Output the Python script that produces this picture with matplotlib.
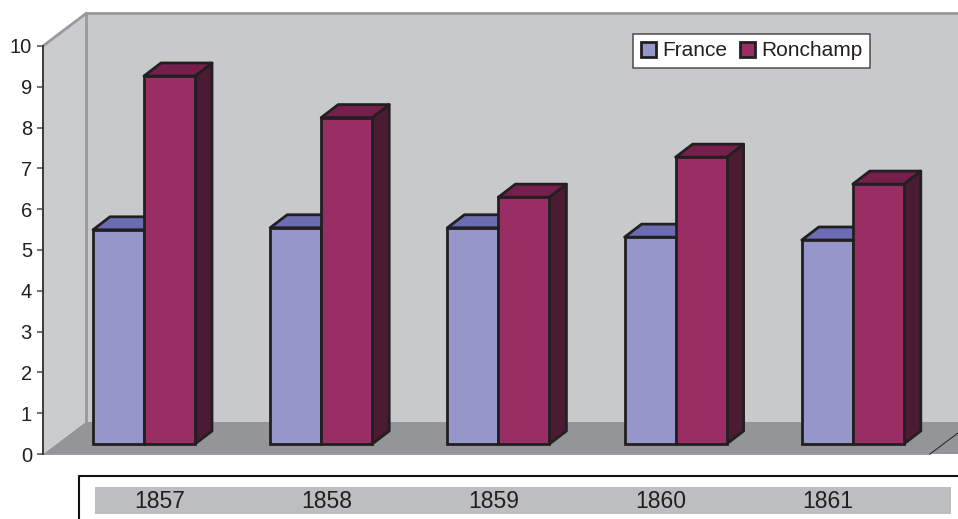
import matplotlib
matplotlib.use("Agg")
import matplotlib.pyplot as plt
from matplotlib.lines import Line2D
from matplotlib.patches import Patch, Polygon

plt.rcParams['font.family'] = ['Liberation Sans', 'DejaVu Sans']

years = ["1857", "1858", "1859", "1860", "1861"]
france = [5.25, 5.3, 5.3, 5.07, 5.0]
ronchamp = [9.02, 8.0, 6.05, 7.03, 6.37]
yticks = list(range(11))

W, H = 958, 519
INK = "#231f20"

fig = plt.figure(figsize=(W / 100, H / 100), dpi=100, facecolor="white")
ax = fig.add_axes([43 / W, (H - 454) / H, (W - 43) / W, 408 / H])

# one group = 177.2 px, one y unit = 40.8 px
px = 1 / 177.2
py = 1 / 40.8
ax.set_xlim((43 - 144) * px, (958 - 144) * px)
ax.set_ylim(0, 10)
ax.patch.set_visible(False)


def poly(pts, fc, ec="none", lw=0, z=1, clip=False):
    p = Polygon(pts, closed=True, facecolor=fc, edgecolor=ec, linewidth=lw,
                zorder=z, clip_on=clip, joinstyle="round")
    ax.add_patch(p)


# walls and floor
x0, x1 = ax.get_xlim()
wx = 43 * px
wy = 32.5 * py
fx = x0 + (930 - 43) * px
poly([(x0, 0), (x0 + wx, wy), (x1, wy), (x1, 0), (fx, 0)], "#939598", z=1)
poly([(x0 + wx, wy), (x0 + wx, 10 + wy), (x1, 10 + wy), (x1, wy)], "#c8c9cb", z=1)
poly([(x0, 0), (x0, 10), (x0 + wx, 10 + wy), (x0 + wx, wy)], "#cbccce", z=1)
ax.plot([x0 + wx, x0 + wx], [wy, 10 + wy], color="#98999c", lw=2, zorder=2, clip_on=False)
ax.plot([x0, x0 + wx, x1], [10, 10 + wy, 10 + wy], color="#98999c", lw=2, zorder=2, clip_on=False)
ax.plot([x0, fx], [0, 0], color="#98999c", lw=1.4, zorder=2, clip_on=False)
ax.plot([fx, x1], [0, 21 * py], color=INK, lw=0.7, zorder=2, clip_on=False)

# bars
w = 51 * px
base = 10 * py
dx = 17 * px
dy = 13 * py


def bars3d(xs, vals, front, top, side, z):
    for x, v in zip(xs, vals):
        l, r, t = x, x + w, base + v
        poly([(r, base), (r + dx, base + dy), (r + dx, t + dy), (r, t)], side, INK, 2, z)
        poly([(l, t), (l + dx, t + dy), (r + dx, t + dy), (r, t)], top, INK, 2, z)
    ax.bar(xs, vals, w, bottom=base, align="edge", color=front, edgecolor=INK,
           linewidth=2, zorder=z + 0.5)


pos = list(range(len(years)))
bars3d([p - w for p in pos], france, "#9696c9", "#6c6cb4", "#4a4a80", 3)
bars3d(pos, ronchamp, "#982e64", "#761f4c", "#4b1a33", 4)

# axis
for s in ["top", "right", "bottom"]:
    ax.spines[s].set_visible(False)
ax.spines["left"].set_color("#3a3a3c")
ax.spines["left"].set_linewidth(1.4)
ax.spines["left"].set_zorder(6)
ax.set_xticks([])
ax.set_yticks(yticks)
ax.tick_params(axis="y", length=4.5, width=1.2, color="#58595b", pad=3.5,
               labelsize=14.5, labelcolor=INK)

leg = fig.legend(handles=[Patch(facecolor="#9696c9", edgecolor=INK, linewidth=2, label="France"),
                          Patch(facecolor="#982e64", edgecolor=INK, linewidth=2, label="Ronchamp")],
                 ncol=2, loc="center", bbox_to_anchor=(751.5 / W, 1 - 51 / H), fontsize=15,
                 fancybox=False, framealpha=1, edgecolor="#4d4d4f", handlelength=0.72,
                 handleheight=0.72, handletextpad=0.3, columnspacing=0.62, borderpad=0.38,
                 labelcolor=INK)
leg.get_frame().set_linewidth(1.1)
leg.set_zorder(10)

# year table under the chart
fig.add_artist(Line2D([79 / W, 79 / W, 1], [0, 1 - 476 / H, 1 - 476 / H], color="#111111", lw=1.5))
tab = fig.add_axes([95 / W, (H - 514) / H, (951 - 95) / W, 27 / H])
tab.set_xlim((95 - 160) / 167, (951 - 160) / 167)
tab.set_ylim(0, 1)
tab.set_facecolor("#bcbec0")
tab.set_xticks([])
tab.set_yticks([])
for s in tab.spines.values():
    s.set_visible(False)
for i, y in enumerate(years):
    tab.text(i, 0.46, y, ha="center", va="center", fontsize=16.5, color=INK)

fig.savefig("out.png", dpi=100)
